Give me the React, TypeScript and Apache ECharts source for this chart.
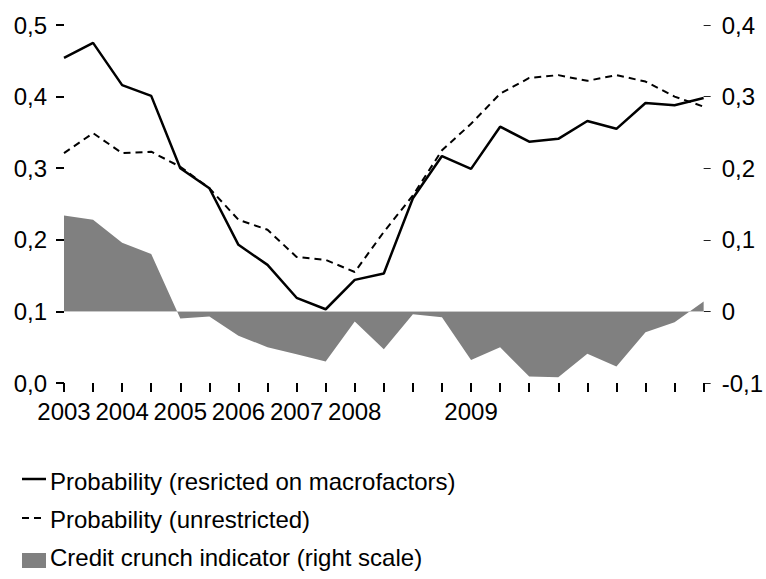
import React, { useEffect, useRef } from "react";
import * as echarts from "echarts";

const categories = [
  "2003", "", "2004", "", "2005", "", "2006", "", "2007", "", "2008", "",
  "", "", "2009", "", "", "", "", "", "", "", "",
];

const restricted = [
  0.454, 0.475, 0.416, 0.401, 0.3, 0.272, 0.193, 0.165, 0.119, 0.103, 0.144, 0.153,
  0.258, 0.317, 0.299, 0.358, 0.337, 0.341, 0.366, 0.355, 0.391, 0.388, 0.398,
];

const unrestricted = [
  0.321, 0.349, 0.321, 0.323, 0.302, 0.272, 0.228, 0.214, 0.176, 0.172, 0.155, 0.211,
  0.262, 0.325, 0.362, 0.404, 0.426, 0.43, 0.422, 0.43, 0.421, 0.4, 0.386,
];

const creditCrunch = [
  0.134, 0.128, 0.096, 0.08, -0.01, -0.007, -0.034, -0.05, -0.06, -0.07, -0.014, -0.053,
  -0.004, -0.008, -0.068, -0.05, -0.091, -0.092, -0.059, -0.077, -0.029, -0.015, 0.014,
];

const seriesNames = [
  "Probability (resricted on macrofactors)",
  "Probability (unrestricted)",
  "Credit crunch indicator (right scale)",
];

const FONT = "'Liberation Sans', Arial, sans-serif";
const FS = 24;
const AREA_COLOR = "#808080";

const fmt = (v: number, zeroPlain: boolean) => {
  const r = Math.round(v * 10) / 10;
  if (zeroPlain && Math.abs(r) < 1e-9) return "0";
  return r.toFixed(1).replace(".", ",");
};

export default function App() {
  const ref = useRef<HTMLDivElement>(null);
  useEffect(() => {
    if (!ref.current) return;
    const chart = echarts.init(ref.current, undefined, { renderer: "svg" });
    const legendRows = [483, 521, 559];
    const textStyle = (t: string, y: number) => ({
      type: "text",
      left: 50,
      top: y - 14,
      style: { text: t, font: `${FS}px ${FONT}`, fill: "#000" },
    });
    chart.setOption({
      animation: false,
      backgroundColor: "#ffffff",
      grid: { left: 64, right: 59, top: 25, bottom: 196, containLabel: false },
      graphic: [
        {
          type: "line",
          shape: { x1: 22, y1: 479, x2: 46, y2: 479 },
          style: { stroke: "#000", lineWidth: 2.5 },
        },
        textStyle(seriesNames[0], legendRows[0]),
        {
          type: "line",
          shape: { x1: 22, y1: 518, x2: 46, y2: 518 },
          style: { stroke: "#000", lineWidth: 2, lineDash: [7, 5] },
        },
        textStyle(seriesNames[1], legendRows[1]),
        {
          type: "rect",
          shape: { x: 22, y: 553, width: 24, height: 15 },
          style: { fill: AREA_COLOR },
        },
        textStyle(seriesNames[2], legendRows[2]),
      ],
      xAxis: {
        type: "category",
        data: categories,
        boundaryGap: false,
        axisLine: { show: false },
        axisTick: { show: true, interval: 0, length: 9, lineStyle: { color: "#000", width: 2 } },
        axisLabel: {
          interval: 0,
          margin: 16,
          fontFamily: FONT,
          fontSize: FS,
          color: "#000",
        },
        splitLine: { show: false },
      },
      yAxis: [
        {
          type: "value",
          min: 0,
          max: 0.5,
          interval: 0.1,
          position: "left",
          axisLine: { show: false },
          axisTick: { show: true, length: 8, lineStyle: { color: "#000", width: 2 } },
          axisLabel: {
            margin: 17,
            fontFamily: FONT,
            fontSize: FS,
            color: "#000",
            formatter: (v: number) => fmt(v, false),
          },
          splitLine: { show: false },
        },
        {
          type: "value",
          min: -0.1,
          max: 0.4,
          interval: 0.1,
          position: "right",
          axisLine: { show: false },
          axisTick: { show: true, length: 7, lineStyle: { color: "#222", width: 1 } },
          axisLabel: {
            margin: 18,
            fontFamily: FONT,
            fontSize: FS,
            color: "#000",
            formatter: (v: number) => fmt(v, true),
          },
          splitLine: { show: false },
        },
      ],
      series: [
        {
          name: seriesNames[2],
          type: "line",
          yAxisIndex: 1,
          data: creditCrunch,
          symbol: "none",
          lineStyle: { width: 0, color: AREA_COLOR },
          itemStyle: { color: AREA_COLOR },
          areaStyle: { color: AREA_COLOR, opacity: 1 },
          z: 1,
          markLine: {
            silent: true,
            symbol: "none",
            label: { show: false },
            lineStyle: { color: "#c8c8c8", width: 1, type: "solid" },
            data: [{ yAxis: 0 }],
          },
        },
        {
          name: seriesNames[0],
          type: "line",
          data: restricted,
          symbol: "none",
          lineStyle: { color: "#000", width: 2.5, type: "solid" },
          itemStyle: { color: "#000" },
          z: 3,
        },
        {
          name: seriesNames[1],
          type: "line",
          data: unrestricted,
          symbol: "none",
          lineStyle: { color: "#000", width: 2, type: [7, 5] },
          itemStyle: { color: "#000" },
          z: 2,
        },
      ],
    });
    return () => chart.dispose();
  }, []);
  return (
    <div
      ref={ref}
      style={{ position: "fixed", left: 0, top: 0, width: 766, height: 579, background: "#fff" }}
    />
  );
}
